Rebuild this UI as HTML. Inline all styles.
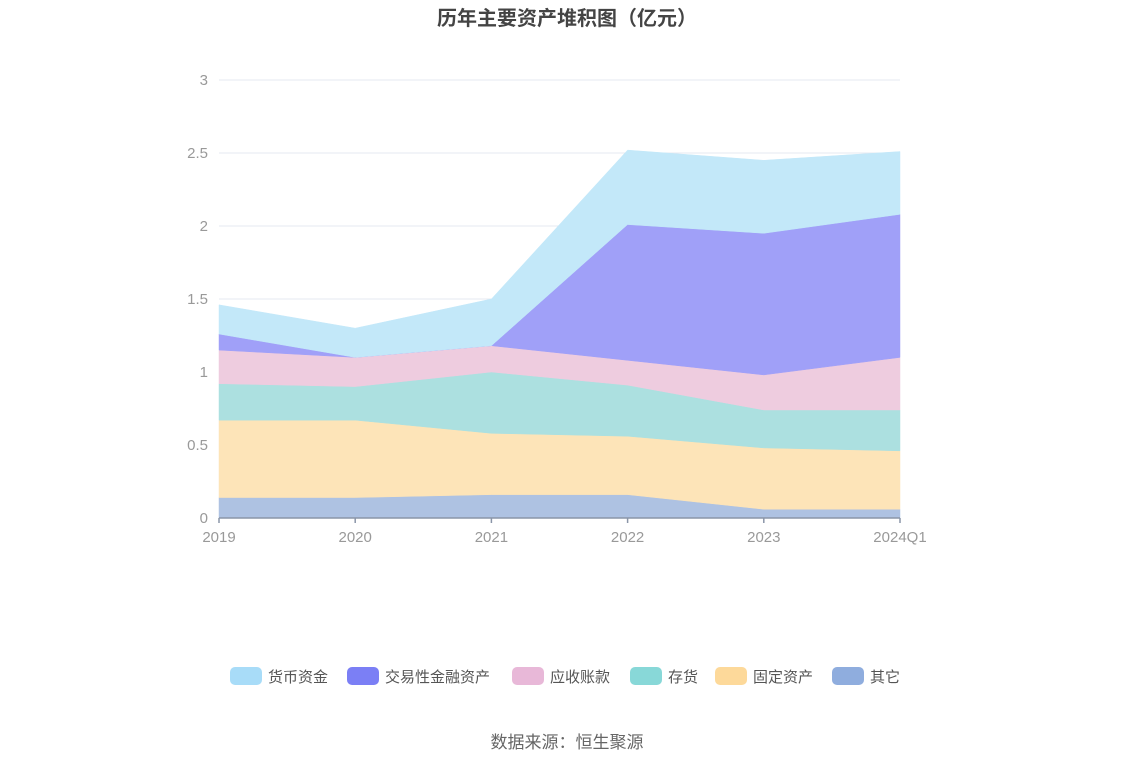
<!DOCTYPE html>
<html><head><meta charset="utf-8">
<style>
body{margin:0;background:#fff;font-family:"Liberation Sans","Noto Sans CJK SC",sans-serif;}
svg text{font-family:"Liberation Sans","Noto Sans CJK SC",sans-serif;}
</style></head>
<body>
<svg id="chart" width="1134" height="766" xmlns="http://www.w3.org/2000/svg">
<text x="567" y="25" text-anchor="middle" font-size="20" font-weight="bold" fill="#444">历年主要资产堆积图（亿元）</text>
<g id="grid"></g>
<g id="areas"></g>
<g id="axes"></g>
<g id="legend"></g>
<text x="567" y="748" text-anchor="middle" font-size="17" fill="#666">数据来源：恒生聚源</text>
</svg>
<script>
const categories=["2019","2020","2021","2022","2023","2024Q1"];
const seriesNames=["货币资金","交易性金融资产","应收账款","存货","固定资产","其它"];
const other=[0.14,0.14,0.16,0.16,0.06,0.06];
const fixedAssets=[0.53,0.53,0.42,0.40,0.42,0.40];
const inventory=[0.25,0.23,0.42,0.35,0.26,0.28];
const receivables=[0.23,0.20,0.18,0.17,0.24,0.36];
const tradingAssets=[0.11,0.00,0.00,0.93,0.97,0.98];
const cash=[0.20,0.20,0.32,0.51,0.50,0.43];
const yTicks=[0,0.5,1,1.5,2,2.5,3];
const yTickLabels=["0","0.5","1","1.5","2","2.5","3"];
const NS="http://www.w3.org/2000/svg";
const x0=219,x1=900,yB=518,yT=80,yMax=3;
function xs(i){return x0+(x1-x0)*i/(categories.length-1);}
function ys(v){return yB-(yB-yT)*v/yMax;}
function mk(tag,attrs,parent){const e=document.createElementNS(NS,tag);for(const k in attrs)e.setAttribute(k,attrs[k]);parent.appendChild(e);return e;}
const grid=document.getElementById('grid'),areas=document.getElementById('areas'),axes=document.getElementById('axes'),legend=document.getElementById('legend');
yTicks.forEach((t,i)=>{
 if(t>0){const l=mk('line',{x1:x0,x2:x1,y1:ys(t),y2:ys(t),stroke:'#e6e8f0','stroke-width':1},grid);
 
 }
 const tx=mk('text',{x:208,y:ys(t)+5,'text-anchor':'end','font-size':15,fill:'#999'},axes);
 tx.textContent=yTickLabels[i];
 
 
});
const stackOrder=[other,fixedAssets,inventory,receivables,tradingAssets,cash];
const fills=["#aec2e2","#fde4b8","#ace0e0","#eeccdf","#a0a0f8","#c3e8f9"];
const names=["area-other","area-fixed-assets","area-inventory","area-receivables","area-trading-assets","area-cash"];
let base=categories.map(()=>0);
stackOrder.forEach((s,k)=>{
 const top=base.map((b,i)=>b+s[i]);
 let d='';
 top.forEach((v,i)=>{d+=(i?'L':'M')+xs(i)+','+ys(v);});
 for(let i=base.length-1;i>=0;i--)d+='L'+xs(i)+','+ys(base[i]);
 d+='Z';
 const p=mk('path',{d:d,fill:fills[k],stroke:fills[k],'stroke-width':0.5},areas);
 
 
 base=top;
});
const ax=mk('line',{x1:x0,x2:x1,y1:yB,y2:yB,stroke:'#8a95a8','stroke-width':1.5},axes);


categories.forEach((c,i)=>{
 const tk=mk('line',{x1:xs(i),x2:xs(i),y1:yB,y2:yB+5,stroke:'#8a95a8','stroke-width':1.5},axes);
 
 
 const t=mk('text',{x:xs(i),y:yB+24,'text-anchor':'middle','font-size':15,fill:'#999'},axes);
 t.textContent=c;
 
 
});
const legColors=["#a8dcf8","#7b7ff5","#e8b8d8","#88d8d8","#fdd99a","#8fadde"];
const legX=[230,347,512,630,715,832];
seriesNames.forEach((n,i)=>{
 const g=mk('g',{},legend);
 
 
 mk('rect',{x:legX[i],y:667,width:32,height:18,rx:5,fill:legColors[i]},g);
 const t=mk('text',{x:legX[i]+38,y:682,'font-size':15,fill:'#555'},g);
 t.textContent=n;
});
</script>
</body></html>
